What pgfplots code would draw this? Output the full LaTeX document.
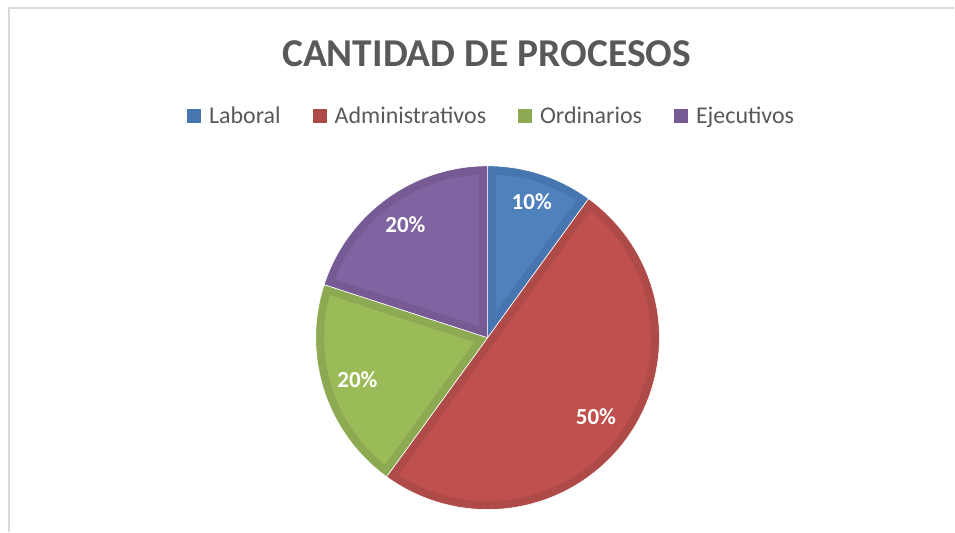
\documentclass[border=0pt]{standalone}
\usepackage{pgfplots}
\usepackage{pgfplotstable}
\pgfplotsset{compat=1.18}
\usepackage{fontspec}
\setmainfont{Carlito}
\definecolor{cBlue}{HTML}{4F81BD}
\definecolor{cRed}{HTML}{C0504D}
\definecolor{cGreen}{HTML}{9BBB59}
\definecolor{cPurple}{HTML}{8064A2}
\definecolor{dBlue}{HTML}{4675AF}
\definecolor{dRed}{HTML}{AE4A47}
\definecolor{dGreen}{HTML}{8DAA52}
\definecolor{dPurple}{HTML}{765A93}
\definecolor{txtgray}{HTML}{595959}
\definecolor{framegray}{HTML}{D9D9D9}

\pgfplotstableread{
label value
Laboral 10
Administrativos 50
Ordinarios 20
Ejecutivos 20
}\piedata

\def\R{172}
\def\bw{8.5}
\pgfmathsetmacro\Ri{\R-\bw}

% #1 start angle, #2 end angle (#1 > #2), #3 fill, #4 dark border, #5 label, #6 label radius
\newcommand\pieslice[6]{%
  \pgfmathsetmacro\pmid{(#1+#2)/2}%
  \pgfmathsetmacro\phalf{(#1-#2)/2}%
  \pgfmathsetmacro\poff{\bw/sin(\phalf)}%
  \pgfmathsetmacro\pax{\poff*cos(\pmid)}%
  \pgfmathsetmacro\pay{\poff*sin(\pmid)}%
  \pgfmathsetmacro\pdd{asin(\bw/\Ri)}%
  \pgfmathsetmacro\pea{#2+\pdd}%
  \pgfmathsetmacro\psa{#1-\pdd}%
  \pgfmathsetmacro\plx{#6*cos(\pmid)}%
  \pgfmathsetmacro\ply{#6*sin(\pmid)}%
  \edef\doslice{%
    \noexpand\addplot[forget plot, fill=#4, draw=white, line width=0.6bp, domain=#2:#1, samples=120] ({\R*cos(x)},{\R*sin(x)}) -- (0,0) -- cycle;
    \noexpand\addplot[forget plot, fill=#3, draw=none, domain=\pea:\psa, samples=120] ({\Ri*cos(x)},{\Ri*sin(x)}) -- (\pax,\pay) -- cycle;
    \noexpand\node[text=white, inner sep=0pt, font=\noexpand\fontsize{23bp}{27bp}\noexpand\selectfont\noexpand\bfseries] at (\plx,\ply) {#5\noexpand\%};
  }\doslice
}

\pgfplotstablegetelem{0}{value}\of\piedata \edef\vA{\pgfplotsretval}
\pgfplotstablegetelem{1}{value}\of\piedata \edef\vB{\pgfplotsretval}
\pgfplotstablegetelem{2}{value}\of\piedata \edef\vC{\pgfplotsretval}
\pgfplotstablegetelem{3}{value}\of\piedata \edef\vD{\pgfplotsretval}
\pgfmathsetmacro\aA{90}
\pgfmathsetmacro\aB{\aA-3.6*\vA}
\pgfmathsetmacro\aC{\aB-3.6*\vB}
\pgfmathsetmacro\aD{\aC-3.6*\vC}
\pgfmathsetmacro\aE{\aD-3.6*\vD}

\begin{document}
\begin{tikzpicture}
\begin{axis}[
  hide axis, clip=false,
  x=1bp, y=1bp,
  xmin=-488, xmax=467, ymin=-194, ymax=338,
  legend columns=4,
  legend style={draw=none, fill=none, at={(axis cs:4,222)}, anchor=center,
    font=\fontsize{24bp}{28bp}\selectfont, text=txtgray,
    /tikz/every odd column/.append style={column sep=6bp},
    /tikz/every even column/.append style={column sep=30bp},
    legend cell align=left},
  legend image code/.code={\fill[#1, draw=none] (0bp,-7bp) rectangle (14bp,7bp);},
]
\path (-488,-194) rectangle (467,338);
\draw[framegray, line width=1.6bp] (-479,-194) |- (467,330);
\node[anchor=base, text=txtgray, font=\fontsize{39.5bp}{44bp}\selectfont\bfseries, inner sep=0pt] at (-1,271) {CANTIDAD DE PROCESOS};

\addlegendimage{fill=dBlue}\addlegendentry{Laboral}
\addlegendimage{fill=dRed}\addlegendentry{Administrativos}
\addlegendimage{fill=dGreen}\addlegendentry{Ordinarios}
\addlegendimage{fill=dPurple}\addlegendentry{Ejecutivos}

\pieslice{\aA}{\aB}{cBlue}{dBlue}{\vA}{143}
\pieslice{\aB}{\aC}{cRed}{dRed}{\vB}{134}
\pieslice{\aC}{\aD}{cGreen}{dGreen}{\vC}{137}
\pieslice{\aD}{\aE}{cPurple}{dPurple}{\vD}{140}
\end{axis}
\end{tikzpicture}
\end{document}
